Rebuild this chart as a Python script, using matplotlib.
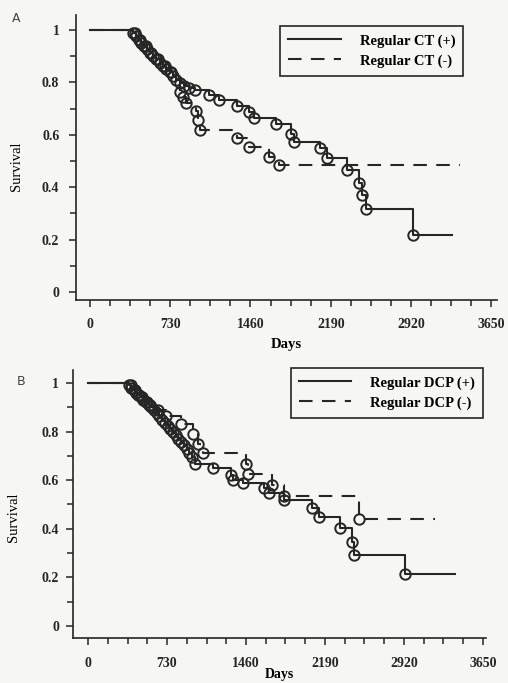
import numpy as np
import matplotlib
matplotlib.use('Agg')
import matplotlib.pyplot as plt
from matplotlib.ticker import MultipleLocator, FixedLocator, FixedFormatter

# ---- data (days, survival after each step) ----
# Panel A : Regular CT (+) / (-)
shared_a_t = [395, 420, 445, 470, 495, 520, 548, 575, 605, 635, 665, 695, 725, 755, 785]
shared_a_s = [0.987, 0.975, 0.962, 0.949, 0.938, 0.927, 0.913, 0.900, 0.888, 0.875, 0.862, 0.850, 0.838, 0.823, 0.808]

ct_pos_t = [820, 860, 905, 953, 1086, 1175, 1336, 1451, 1496, 1692, 1825, 1852, 2093, 2155,
            2333, 2445, 2475, 2511, 2939]
ct_pos_s = [0.796, 0.787, 0.779, 0.771, 0.752, 0.733, 0.710, 0.687, 0.664, 0.640, 0.605, 0.573,
            0.548, 0.511, 0.466, 0.418, 0.370, 0.317, 0.218]
ct_pos_end = 3295
ct_pos_cens = shared_a_t + ct_pos_t

ct_neg_t = [820, 850, 875, 962, 985, 1006, 1336, 1451, 1630, 1718]
ct_neg_s = [0.765, 0.744, 0.720, 0.690, 0.655, 0.618, 0.588, 0.553, 0.515, 0.485]
ct_neg_end = 3366
ct_neg_cens = [410, 460, 510, 560, 620, 680, 740] + ct_neg_t

# Panel B : Regular DCP (+) / (-)
shared_b_t = [380, 400, 420, 440, 460, 485, 510, 535, 560, 585]
shared_b_s = [0.990, 0.980, 0.970, 0.960, 0.950, 0.940, 0.930, 0.920, 0.910, 0.900]

dcp_pos_t = [610, 635, 660, 685, 710, 735, 760, 785, 810, 835, 860, 885, 910, 935, 960, 986,
             1152, 1318, 1340, 1430, 1630, 1677, 1815, 2074, 2138, 2332, 2445, 2455, 2931]
dcp_pos_s = [0.888, 0.875, 0.862, 0.849, 0.836, 0.823, 0.810, 0.797, 0.784, 0.771, 0.758, 0.745,
             0.730, 0.713, 0.695, 0.668, 0.648, 0.620, 0.600, 0.587, 0.567, 0.547, 0.518, 0.486,
             0.449, 0.405, 0.344, 0.291, 0.215]
dcp_pos_end = 3392
dcp_pos_cens = shared_b_t + dcp_pos_t

dcp_neg_t = [645, 719, 857, 968, 1014, 1060, 1456, 1475, 1700, 1816, 2507]
dcp_neg_s = [0.890, 0.862, 0.830, 0.790, 0.750, 0.713, 0.668, 0.627, 0.580, 0.534, 0.441]
dcp_neg_end = 3207
dcp_neg_cens = [395, 430, 470, 500, 545, 575] + dcp_neg_t

x_ticks = [0, 730, 1460, 2190, 2920, 3650]
y_ticks = [0, 0.2, 0.4, 0.6, 0.8, 1.0]
y_labels = ['0', '0.2', '0.4', '0.6', '0.8', '1']

INK = '#262626'
BG = '#f6f6f3'
SERIF = ['Liberation Serif', 'DejaVu Serif']

plt.rcParams['font.family'] = SERIF


def curve(t, s, end):
    xs = np.r_[0, t, end]
    ys = np.r_[1.0, s, s[-1]]
    return xs, ys


def lookup(xs, ys, days):
    idx = np.searchsorted(xs, days, side='right') - 1
    return ys[idx]


def km_panel(ax, pos, neg, labels, xlim, ylim, legend_anchor, xpad, ypad):
    handles = []
    for (t, s, end, cens), ls in zip([pos, neg], ['-', '--']):
        xs, ys = curve(t, s, end)
        line, = ax.step(xs, ys, where='post', color=INK, lw=1.5, ls=ls,
                        dashes=(6.5, 4.5) if ls == '--' else (None, None))
        handles.append(line)
        ax.plot(cens, lookup(xs, ys, cens), 'o', mfc='none', mec=INK, ms=7.5, mew=1.4)
    ax.set_xlim(*xlim)
    ax.set_ylim(*ylim)
    ax.set_facecolor(BG)
    for sp in ['top', 'right']:
        ax.spines[sp].set_visible(False)
    for sp in ['left', 'bottom']:
        ax.spines[sp].set_linewidth(1.2)
        ax.spines[sp].set_color(INK)
    ax.xaxis.set_major_locator(FixedLocator(x_ticks))
    ax.xaxis.set_minor_locator(MultipleLocator(182.5))
    ax.yaxis.set_major_locator(FixedLocator(y_ticks))
    ax.yaxis.set_major_formatter(FixedFormatter(y_labels))
    ax.yaxis.set_minor_locator(MultipleLocator(0.1))
    ax.tick_params(axis='both', which='both', direction='out', colors=INK, width=1.1)
    ax.tick_params(axis='both', which='major', length=5)
    ax.tick_params(axis='both', which='minor', length=4)
    ax.tick_params(axis='x', pad=xpad)
    ax.tick_params(axis='y', pad=ypad)
    for lab in ax.get_yticklabels():
        lab.set_fontweight('bold')
        lab.set_fontsize(10)
    ax.set_xticklabels([str(v) for v in x_ticks], fontweight='bold', fontsize=10)
    leg = ax.legend(handles, labels, loc='upper right',
                    bbox_to_anchor=legend_anchor, borderaxespad=0, frameon=True,
                    fancybox=False, edgecolor=INK, framealpha=1, facecolor=BG,
                    handlelength=3.6, handletextpad=1.3, labelspacing=0.45, borderpad=0.55,
                    prop={'family': SERIF, 'weight': 'bold', 'size': 10.5})
    leg.get_frame().set_linewidth(1.2)


fig = plt.figure(figsize=(5.08, 6.83), dpi=100, facecolor=BG)

# panel A
axA = fig.add_axes([76 / 508, 1 - 300 / 683, 421 / 508, 285 / 683])
km_panel(axA,
         (shared_a_t + ct_pos_t, shared_a_s + ct_pos_s, ct_pos_end, ct_pos_cens),
         (shared_a_t + ct_neg_t, shared_a_s + ct_neg_s, ct_neg_end, ct_neg_cens),
         ['Regular CT (+)', 'Regular CT (-)'], (-125, 3700), (-0.03, 1.057),
         (0.92, 0.961), 8, 7)
axA.set_xlabel('Days', fontweight='bold', fontsize=10.5, labelpad=5)
axA.set_ylabel('Survival', fontsize=10.5)
axA.yaxis.set_label_coords(-0.125, 0.47)
fig.text(16 / 508, 1 - 19 / 683, 'A', family='DejaVu Sans', fontsize=9, color='#444',
         ha='center', va='center')

# panel B
axB = fig.add_axes([73 / 508, 1 - 638 / 683, 413 / 508, 268 / 683])
km_panel(axB,
         (shared_b_t + dcp_pos_t, shared_b_s + dcp_pos_s, dcp_pos_end, dcp_pos_cens),
         (shared_b_t + dcp_neg_t, shared_b_s + dcp_neg_s, dcp_neg_end, dcp_neg_cens),
         ['Regular DCP (+)', 'Regular DCP (-)'], (-140, 3680), (-0.049, 1.053),
         (0.993, 1.007), 9, 5)
axB.set_xlabel('Days', fontweight='bold', fontsize=10, labelpad=-2)
axB.set_ylabel('Survival', fontsize=10.5)
axB.yaxis.set_label_coords(-0.128, 0.45)
fig.text(21 / 508, 1 - 381 / 683, 'B', family='DejaVu Sans', fontsize=9, color='#444',
         ha='center', va='center')

fig.savefig('out.png', dpi=100, facecolor=BG)
